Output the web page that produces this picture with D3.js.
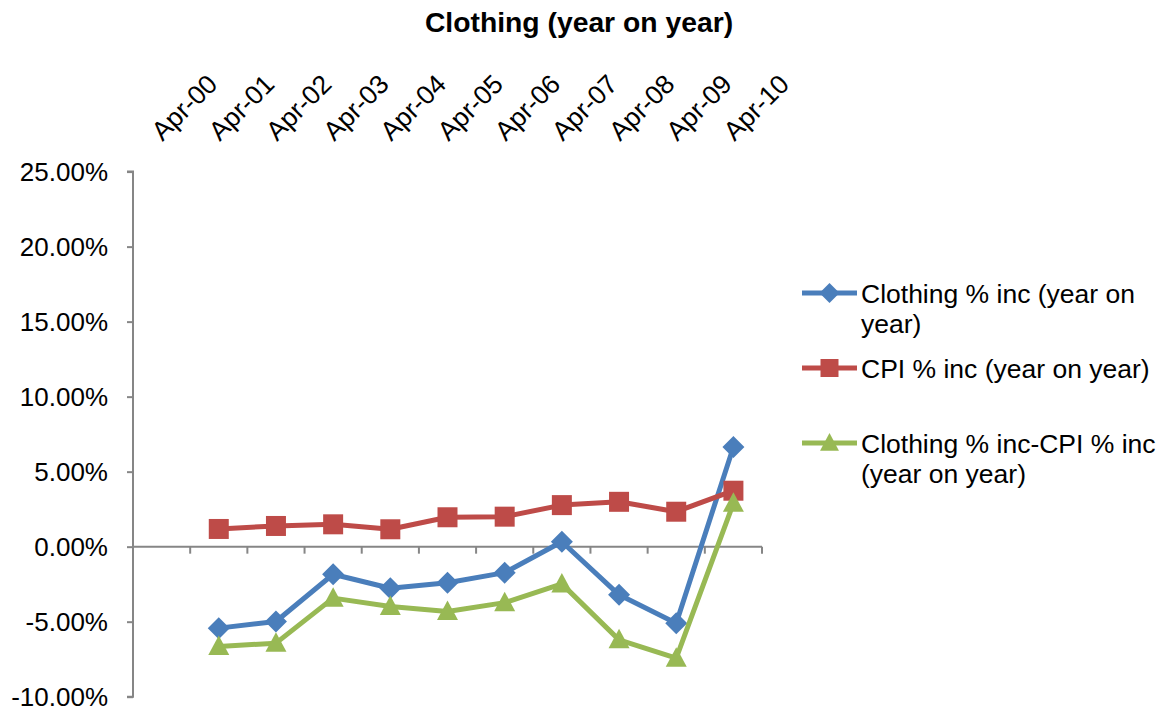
<!DOCTYPE html>
<html>
<head>
<meta charset="utf-8">
<script src="https://cdn.jsdelivr.net/npm/d3@7/dist/d3.min.js"></script>
<style>
  html, body { margin: 0; padding: 0; background: #fff; }
  svg { display: block; font-family: "Liberation Sans", Arial, sans-serif; }
</style>
</head>
<body>
<svg id="chart" width="1168" height="711"></svg>
<script>
// ---- data ----
const categories = ["Apr-00","Apr-01","Apr-02","Apr-03","Apr-04","Apr-05","Apr-06","Apr-07","Apr-08","Apr-09","Apr-10"];
const clothing = [null, -5.43, -4.99, -1.84, -2.77, -2.40, -1.73, 0.33, -3.21, -5.10, 6.65];
const cpi      = [null, 1.18, 1.38, 1.49, 1.16, 1.96, 2.00, 2.77, 2.99, 2.33, 3.73];
const diff     = [null, -6.65, -6.43, -3.43, -3.99, -4.32, -3.73, -2.48, -6.21, -7.43, 2.89];
const yTicks = [-10, -5, 0, 5, 10, 15, 20, 25];
const seriesNames = ["Clothing % inc (year on year)", "CPI % inc (year on year)", "Clothing % inc-CPI % inc (year on year)"];
const title = "Clothing (year on year)";

const series = [
  { name: seriesNames[0], values: clothing, color: "#4A7EBB", marker: "diamond", legendLines: ["Clothing % inc (year on", "year)"] },
  { name: seriesNames[1], values: cpi, color: "#BE4B48", marker: "square", legendLines: ["CPI % inc (year on year)"] },
  { name: seriesNames[2], values: diff, color: "#98B954", marker: "triangle", legendLines: ["Clothing % inc-CPI % inc", "(year on year)"] }
];

const svg = d3.select("#chart");
const font = "\"Liberation Sans\", Arial, sans-serif";
const axisColor = "#868686";

const x = d3.scaleBand().domain(categories).range([133, 762]).padding(0);
const y = d3.scaleLinear().domain([-10, 25]).range([696.7, 171.6]);
const cx = c => x(c) + x.bandwidth() / 2;

// title
svg.append("text")
  .attr("x", 579).attr("y", 32)
  .attr("text-anchor", "middle")
  .attr("font-weight", "bold")
  .attr("font-size", 28.3)
  .attr("fill", "#000")
  .text(title);

// y axis
const yAxis = d3.axisLeft(y).tickValues(yTicks).tickSize(6).tickPadding(19)
  .tickFormat(d => d.toFixed(2) + "%");
const gy = svg.append("g").attr("transform", "translate(133,0)").call(yAxis);
gy.select(".domain").attr("stroke", axisColor).attr("stroke-width", 2).attr("d", `M-6,${y(25)}H0V${y(-10)}H-6`);
gy.selectAll(".tick line").attr("stroke", axisColor).attr("stroke-width", 2);
gy.selectAll(".tick text").attr("font-size", 26).attr("font-family", font).attr("fill", "#000").attr("dy", "0.35em");

// x axis at zero
const xAxis = d3.axisBottom(x).tickSize(6).tickFormat("");
const gx = svg.append("g").attr("transform", `translate(0,${y(0)})`).call(xAxis);
gx.select(".domain").attr("stroke", axisColor).attr("stroke-width", 2).attr("d", `M133,0H762`);
// ticks at band boundaries
gx.selectAll(".tick").remove();
const bounds = categories.map(c => x(c)).concat([x(categories[categories.length - 1]) + x.bandwidth()]);
gx.selectAll("line.bt").data(bounds.slice(1)).enter().append("line")
  .attr("class", "bt")
  .attr("x1", d => d).attr("x2", d => d)
  .attr("y1", 0).attr("y2", 7)
  .attr("stroke", axisColor).attr("stroke-width", 2);

// x labels at top, rotated
svg.append("g").selectAll("text").data(categories).enter().append("text")
  .attr("transform", d => `translate(${cx(d) + 1},142) rotate(-45)`)
  .attr("text-anchor", "start")
  .attr("font-size", 26.5)
  .attr("fill", "#000")
  .text(d => d);

// markers
function markerPath(type, s) {
  if (type === "diamond") return `M0,${-s}L${s},0L0,${s}L${-s},0Z`;
  if (type === "square") return `M${-s},${-s}H${s}V${s}H${-s}Z`;
  // triangle
  return `M0,${-s * 1.1}L${s * 1.05},${s * 0.85}H${-s * 1.05}Z`;
}
const markerSize = { diamond: 11, square: 10, triangle: 10 };

const line = d3.line()
  .defined(d => d.v != null)
  .x(d => cx(d.c))
  .y(d => y(d.v));

series.forEach(s => {
  const pts = categories.map((c, i) => ({ c, v: s.values[i] }));
  svg.append("path")
    .datum(pts)
    .attr("fill", "none")
    .attr("stroke", s.color)
    .attr("stroke-width", 5)
    .attr("stroke-linejoin", "round")
    .attr("d", line);
  svg.append("g").selectAll("path").data(pts.filter(d => d.v != null)).enter().append("path")
    .attr("transform", d => `translate(${cx(d.c)},${y(d.v)})`)
    .attr("d", markerPath(s.marker, markerSize[s.marker]))
    .attr("fill", s.color);
});

// legend
const legendItems = [
  { lineY: 293, baselines: [303, 333] },
  { lineY: 368, baselines: [378] },
  { lineY: 443, baselines: [453, 483] }
];
series.forEach((s, i) => {
  const L = legendItems[i];
  const g = svg.append("g");
  g.append("line").attr("x1", 802).attr("x2", 857).attr("y1", L.lineY).attr("y2", L.lineY)
    .attr("stroke", s.color).attr("stroke-width", 5);
  g.append("path").attr("transform", `translate(829.5,${L.lineY})`)
    .attr("d", markerPath(s.marker, markerSize[s.marker] - 1)).attr("fill", s.color);
  s.legendLines.forEach((t, j) => {
    g.append("text").attr("x", 861).attr("y", L.baselines[j])
      .attr("font-size", 26.5).attr("fill", "#000").text(t);
  });
});
</script>
</body>
</html>
